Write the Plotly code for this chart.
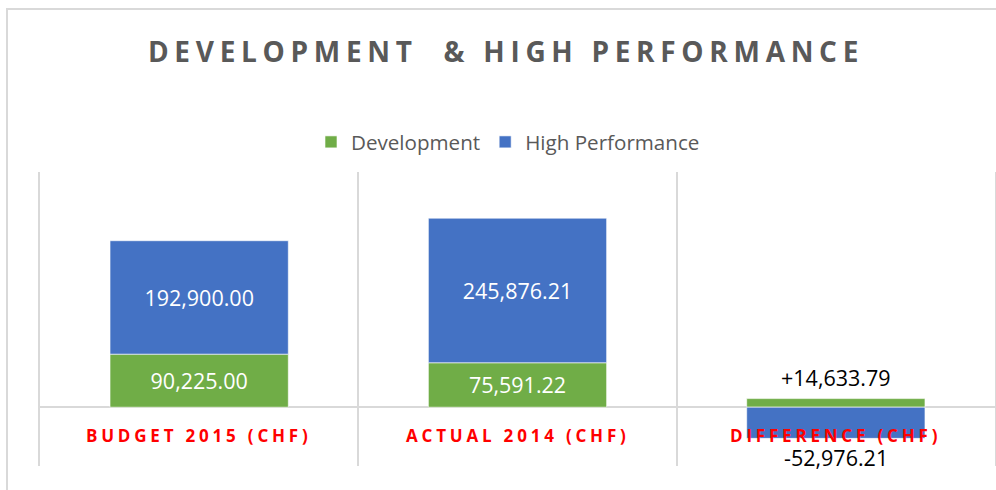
import plotly.graph_objects as go

categories = ["BUDGET 2015 (CHF)", "ACTUAL 2014 (CHF)", "DIFFERENCE (CHF)"]
development = [90225.00, 75591.22, 14633.79]
high_performance = [192900.00, 245876.21, -52976.21]
series_names = ["Development", "High Performance"]
title_text = "DEVELOPMENT\u00a0 & HIGH PERFORMANCE"

GREEN = "#70AD47"
BLUE = "#4472C4"
GRAY_TXT = "#595959"
GRID = "#D9D9D9"
FONT = "Open Sans"

W, H = 996, 490
L, R, T, B = 40, 1, 172, 24


def fmt(v, sign=False):
    s = f"{abs(v):,.2f}"
    if v < 0:
        return "-" + s
    return ("+" + s) if sign else s


# inside labels for the first two categories, outside labels for the difference
dev_text = [fmt(v) for v in development[:2]] + [""]
hp_text = [fmt(v) for v in high_performance[:2]] + [""]

fig = go.Figure()
fig.add_trace(go.Bar(
    name=series_names[0], x=categories, y=development,
    marker=dict(color=GREEN, line=dict(color="white", width=0.6)),
    text=dev_text, textposition="inside", insidetextanchor="middle",
    textfont=dict(family=FONT, size=21.5, color="white"),
    hoverinfo="skip",
))
fig.add_trace(go.Bar(
    name=series_names[1], x=categories, y=high_performance,
    marker=dict(color=BLUE, line=dict(color="white", width=0.6)),
    text=hp_text, textposition="inside", insidetextanchor="middle",
    textfont=dict(family=FONT, size=21.5, color="white"),
    hoverinfo="skip",
))

# difference labels (outside the thin bars)
for v in (development[2], high_performance[2]):
    fig.add_annotation(
        x=categories[2], y=v, xref="x", yref="y",
        text=fmt(v, sign=True), showarrow=False,
        yanchor="middle", yshift=21 if v >= 0 else -19,
        font=dict(family=FONT, size=21.5, color="black"),
    )

# category labels sitting under the zero line
for c in categories:
    fig.add_annotation(
        x=c, y=0, xref="x", yref="y",
        text=f'<span style="letter-spacing:3.8px">{c}</span>',
        showarrow=False, yanchor="middle", yshift=-28,
        font=dict(family=FONT, size=17, color="#FF0000", weight="bold"),
    )

# outer chart border
px = lambda v: (v - L) / (W - L - R)
py = lambda v: (H - B - v) / (H - T - B)
fig.add_shape(type="rect", xref="paper", yref="paper",
              x0=px(7), x1=px(1010), y0=py(9), y1=py(520),
              line=dict(color=GRID, width=2), layer="below")

fig.update_layout(
    width=W, height=H,
    margin=dict(l=L, r=R, t=T, b=B, autoexpand=False),
    paper_bgcolor="white", plot_bgcolor="white",
    barmode="relative", bargap=0.44,
    title=dict(
        text=f'<span style="letter-spacing:5.7px">{title_text}</span>',
        x=506 / W, xanchor="center", xref="container",
        y=1 - 52 / H, yanchor="middle", yref="container",
        font=dict(family=FONT, size=28, color=GRAY_TXT, weight="bold"),
    ),
    legend=dict(
        orientation="h", xref="container", yref="container",
        x=508 / W, xanchor="center", y=1 - 142 / H, yanchor="middle",
        font=dict(family=FONT, size=20.6, color=GRAY_TXT),
        traceorder="normal", itemclick=False, itemdoubleclick=False,
    ),
    xaxis=dict(
        type="category", tickson="boundaries", showgrid=True,
        gridcolor=GRID, gridwidth=1.5, showticklabels=False,
        ticks="", showline=False, zeroline=False, fixedrange=True,
    ),
    yaxis=dict(
        range=[-100000, 400000], showgrid=False, showticklabels=False,
        zeroline=True, zerolinecolor=GRID, zerolinewidth=2,
        showline=True, mirror=True, linecolor=GRID, linewidth=1.5,
        ticks="", fixedrange=True,
    ),
    showlegend=True,
)

fig.write_html("out.html", config={"displayModeBar": False},
               post_script="document.body.style.margin='0';")
